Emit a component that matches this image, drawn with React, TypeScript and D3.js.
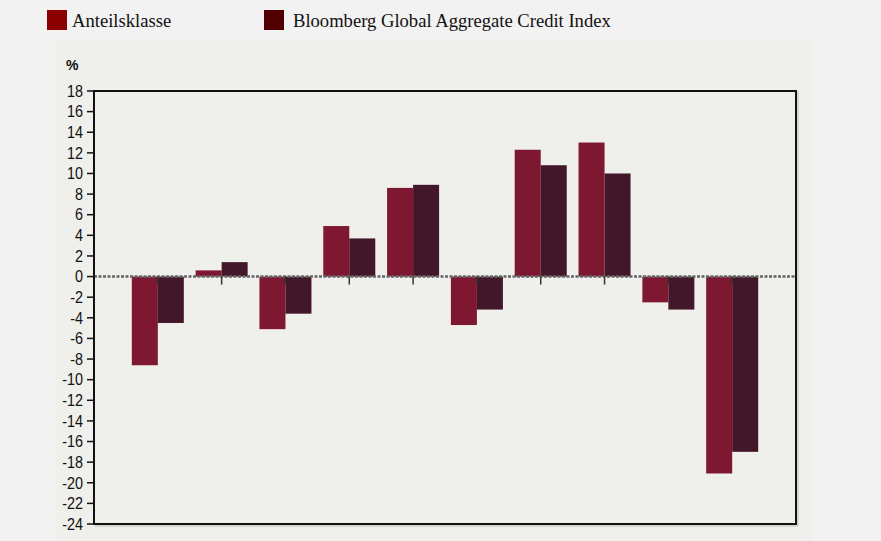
import React from "react";
import * as d3 from "d3";

const categories = ["1", "2", "3", "4", "5", "6", "7", "8", "9", "10"];
const anteilsklasse = [-8.6, 0.6, -5.1, 4.9, 8.6, -4.7, 12.3, 13.0, -2.5, -19.1];
const benchmark = [-4.5, 1.4, -3.6, 3.7, 8.9, -3.2, 10.8, 10.0, -3.2, -17.0];
const seriesNames = ["Anteilsklasse", "Bloomberg Global Aggregate Credit Index"];
const yTicks = d3.range(-24, 19, 2);

const W = 881;
const H = 541;
const plot = { left: 94, right: 796, top: 91, bottom: 524 };

export default function App() {
  const y = d3.scaleLinear().domain([-24, 18]).range([plot.bottom, plot.top]);
  const x = d3.scalePoint<string>().domain(categories).range([plot.left, plot.right]).padding(1);
  const barW = 26;
  const y0 = y(0);
  const colors = ["#7e1830", "#43172a"];
  const legendColors = ["#8b0000", "#500000"];
  const sans = "'Liberation Sans', Arial, sans-serif";
  const serif = "'Liberation Serif', 'Times New Roman', serif";

  return (
    <svg
      width={W}
      height={H}
      style={{ position: "absolute", left: 0, top: 0, display: "block" }}
    >
      <rect x={0} y={0} width={W} height={H} fill="#f2f2f2" />
      <rect x={56} y={40} width={812 - 56} height={H - 40} fill="#efefeb" />

      {/* legend */}
      <rect x={47} y={10} width={20} height={20} fill={legendColors[0]} />
      <text x={72} y={27} fontFamily={serif} fontSize={18.6} fill="#111">
        {seriesNames[0]}
      </text>
      <rect x={264} y={10} width={20} height={20} fill={legendColors[1]} />
      <text x={293} y={27} fontFamily={serif} fontSize={18.6} fill="#111">
        {seriesNames[1]}
      </text>

      {/* % label */}
      <text x={66} y={70} fontFamily={sans} fontSize={14} fontWeight="bold" fill="#111">
        %
      </text>

      {/* y ticks */}
      {yTicks.map((t) => (
        <g key={t}>
          <line x1={plot.left - 7} x2={plot.left} y1={y(t)} y2={y(t)} stroke="#111" strokeWidth={1.5} />
          <text
            transform={`translate(${plot.left - 11},${y(t)}) scale(0.9,1)`}
            dy="0.36em"
            textAnchor="end"
            fontFamily={sans}
            fontSize={16}
            fill="#111"
          >
            {t}
          </text>
        </g>
      ))}

      {/* bars */}
      {categories.map((c, i) => {
        const cx = x(c)!;
        const v1 = anteilsklasse[i];
        const v2 = benchmark[i];
        return (
          <g key={c}>
            <rect
              x={cx - barW}
              y={Math.min(y(v1), y0)}
              width={barW}
              height={Math.abs(y(v1) - y0)}
              fill={colors[0]}
            />
            <rect
              x={cx}
              y={Math.min(y(v2), y0)}
              width={barW}
              height={Math.abs(y(v2) - y0)}
              fill={colors[1]}
            />
          </g>
        );
      })}

      {/* zero line */}
      <line
        x1={plot.left}
        x2={plot.right}
        y1={y0}
        y2={y0}
        stroke="#666"
        strokeWidth={2.5}
        strokeDasharray="3,1.5"
      />

      {/* x ticks */}
      {categories.map((c) => (
        <line key={c} x1={x(c)!} x2={x(c)!} y1={y0} y2={y0 + 8} stroke="#333" strokeWidth={1.5} />
      ))}

      {/* border */}
      <rect
        x={plot.left}
        y={plot.top}
        width={plot.right - plot.left}
        height={plot.bottom - plot.top}
        fill="none"
        stroke="#111"
        strokeWidth={2}
      />
      <line x1={plot.right + 2} x2={plot.right + 2} y1={plot.top + 1} y2={plot.bottom + 2} stroke="#bbb" strokeWidth={1} />
      <line x1={plot.left + 1} x2={plot.right + 2} y1={plot.bottom + 2} y2={plot.bottom + 2} stroke="#bbb" strokeWidth={1} />
    </svg>
  );
}
